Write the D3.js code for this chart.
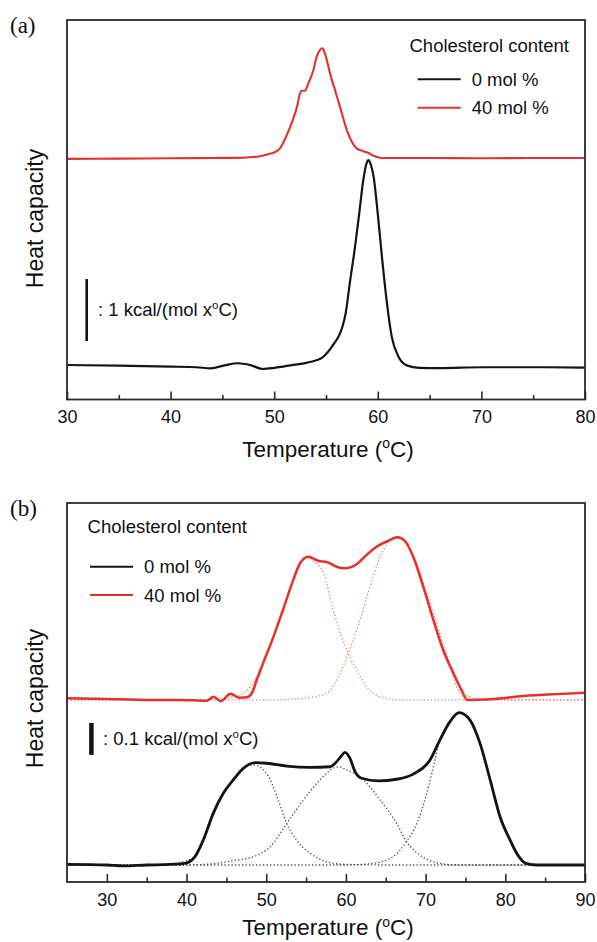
<!DOCTYPE html>
<html><head><meta charset="utf-8">
<script src="https://cdn.jsdelivr.net/npm/d3@7"></script>
<style>body{margin:0;background:#fff} svg{display:block}</style>
</head><body>
<svg id="c" width="597" height="942"></svg>
<script>
// ---------- Panel (a) data : temperature (°C) vs heat capacity (kcal/(mol·°C), offset) ----------
const aBlackT  = [30,35,40,42.5,43.9,45.2,46.5,47.7,48.9,50.0,51.0,52.2,53.2,54.0,54.6,55.2,55.8,56.2,56.6,56.9,57.3,57.8,58.2,58.6,58.9,59.1,59.3,59.6,60.0,60.4,60.85,61.35,62.0,62.8,64.0,66,70,75,80];
const aBlackCp = [0.016,0.005,-0.01,-0.02,-0.037,0.01,0.044,0.015,-0.048,-0.03,-0.005,0.025,0.055,0.09,0.13,0.23,0.37,0.47,0.64,0.85,1.34,1.92,2.45,3.0,3.26,3.32,3.26,3.05,2.45,1.76,1.06,0.47,0.15,0.01,-0.03,-0.035,-0.02,-0.02,-0.025];
const aRedT  = [30,35,40,44,47,48.5,49.5,50.2,50.6,51.2,51.8,52.2,52.5,52.65,52.97,53.3,53.78,54.1,54.42,54.64,54.9,55.39,55.87,56.35,57.0,57.48,57.96,58.5,59.05,59.5,59.9,60.5,62,65,70,75,80];
const aRedCp = [3.34,3.345,3.35,3.355,3.36,3.38,3.42,3.46,3.52,3.72,3.97,4.18,4.40,4.44,4.44,4.56,4.77,4.99,5.10,5.124,5.04,4.72,4.45,4.18,3.81,3.62,3.51,3.47,3.44,3.40,3.37,3.355,3.355,3.355,3.35,3.355,3.355];
const aTicksMajor = [30,40,50,60,70,80];
const aTicksMinor = [35,45,55,65,75];

// ---------- Panel (b) data ----------
const bBlackT  = [25,30,32,35,37.9,39.8,41.06,42.1,43.36,44.61,45.87,47.12,48.6,50.06,52.57,55.5,58.0,58.84,59.4,59.88,60.51,61.14,61.98,64.06,66.37,68.45,70.55,71.8,73.06,74.2,75.57,76.83,78.1,79.34,80.6,81.6,82.5,84,87,90];
const bBlackCp = [0.002,0.0,-0.003,0.0,0.002,0.005,0.026,0.078,0.162,0.224,0.266,0.302,0.320,0.318,0.309,0.305,0.307,0.323,0.34,0.352,0.333,0.292,0.271,0.263,0.268,0.284,0.328,0.391,0.448,0.476,0.453,0.380,0.266,0.151,0.078,0.03,0.006,0.0,0.0,0.0];
const bBlackFit1T  = [25,36,38,39.5,41,42.1,43.36,44.61,45.87,47.12,48.4,49.2,50.5,51.5,52.57,53.8,55.5,57.6,60,65,90];
const bBlackFit1Cp = [0,0,0.003,0.01,0.026,0.075,0.155,0.222,0.266,0.300,0.3125,0.307,0.266,0.203,0.130,0.078,0.037,0.010,0.002,0,0];
const bBlackFit2T  = [25,40,44,46,48.4,50.5,52.57,54.66,56.75,58.4,59.05,60.1,62.2,64.3,66.37,67.6,69.3,71.8,74,90];
const bBlackFit2Cp = [0,0,0.006,0.014,0.026,0.057,0.130,0.203,0.266,0.302,0.307,0.297,0.266,0.203,0.130,0.073,0.031,0.005,0,0];
const bBlackFit3T  = [25,60,63.4,65.9,67.6,68.9,70.14,70.97,71.8,73.06,74.2,75.57,76.83,78.1,79.34,80.6,81.6,82.5,84,90];
const bBlackFit3Cp = [0,0,0.005,0.026,0.073,0.130,0.224,0.307,0.391,0.448,0.476,0.453,0.380,0.266,0.151,0.078,0.03,0.008,0,0];

const bRedT  = [25,30,35,39.2,42.5,43.4,44.3,45.5,46.6,47.6,48.2,48.8,49.6,50.9,52.1,53.4,54.24,55.28,56.5,57.8,58.84,59.76,61.35,62.6,63.86,65.3,66.45,67.4,68.45,69.7,70.97,72.2,73.5,74.5,75.2,78.1,82.3,86.45,90];
const bRedCp = [0.521,0.519,0.516,0.516,0.513,0.526,0.512,0.535,0.523,0.524,0.537,0.578,0.630,0.713,0.797,0.891,0.943,0.963,0.951,0.945,0.932,0.927,0.940,0.969,0.995,1.013,1.024,1.013,0.963,0.870,0.766,0.672,0.599,0.547,0.516,0.518,0.528,0.534,0.538];
const bRedFit1T  = [25,42,44,46,47.5,48.5,49.6,50.9,52.1,53.4,54.24,55.2,56.2,57.2,58.4,59.47,60.3,61.35,62.6,64.3,66.8,70,90];
const bRedFit1Cp = [0.516,0.516,0.518,0.526,0.545,0.575,0.630,0.713,0.797,0.891,0.940,0.960,0.945,0.912,0.797,0.713,0.661,0.609,0.557,0.526,0.516,0.516,0.516];
const bRedFit2T  = [25,50,53,55.1,57.6,59.26,60.3,61.35,62.4,63.4,64.7,65.95,66.7,67.5,68.4,69.3,71.0,72.6,74.3,75.6,77.2,80,90];
const bRedFit2Cp = [0.516,0.516,0.518,0.522,0.537,0.599,0.661,0.734,0.818,0.901,0.984,1.021,1.024,1.01,0.97,0.912,0.786,0.661,0.54,0.526,0.516,0.516,0.516];
const bTicksMajor = [30,40,50,60,70,80,90];
const bTicksMinor = [35,45,55,65,75,85];

const legendTitle = "Cholesterol content";
const legendLabels = ["0 mol %", "40 mol %"];
const COLORS = ["#141414", "#e8302a"];

// ---------- drawing ----------
const FONT = '"Liberation Sans", Arial, Helvetica, sans-serif';
const svg = d3.select('#c');
const L = 67, R = 585;

function zip(T, C){ return T.map((t,i)=>({t, c:C[i]})); }

function supText(g, x, y, fs, parts, anchor, rotate){
  const t = g.append('text').attr('font-family', FONT).attr('font-size', fs).attr('fill', '#111')
    .attr('text-anchor', anchor || 'start');
  if (rotate) t.attr('transform', `translate(${x},${y}) rotate(-90)`);
  else t.attr('x', x).attr('y', y);
  const rise = 0.36 * fs;
  parts.forEach(p => {
    if (p.sup) {
      t.append('tspan').attr('font-size', fs * 0.62).attr('dy', -rise).text(p.s);
    } else {
      const ts = t.append('tspan').text(p.s);
      if (p.after) ts.attr('dy', rise);
    }
  });
  return t;
}

function drawPanel(o){
  const x = d3.scaleLinear().domain(o.xDomain).range([L, R]);
  const y = d3.scaleLinear().domain(o.yDomain).range([o.bottom, o.top]);
  const g = svg.append('g');
  const line = d3.line().x(d=>x(d.t)).y(d=>y(d.c)).curve(d3.curveMonotoneX);

  (o.dotted || []).forEach(d => {
    g.append('path').attr('d', line(zip(d.T, d.C))).attr('fill','none')
      .attr('stroke', d.color).attr('stroke-width', 1.3).attr('stroke-dasharray', '1.3,2.2');
  });
  o.series.forEach(d => {
    g.append('path').attr('d', line(zip(d.T, d.C))).attr('fill','none')
      .attr('stroke', d.color).attr('stroke-width', d.w).attr('stroke-linejoin','round');
  });

  g.append('rect').attr('x', L).attr('y', o.top).attr('width', R-L).attr('height', o.bottom-o.top)
    .attr('fill','none').attr('stroke','#2a2a2a').attr('stroke-width', 1.8);

  const axMaj = d3.axisBottom(x).tickValues(o.major).tickSizeInner(-8).tickSizeOuter(0)
    .tickPadding(11).tickFormat(d3.format('d'));
  const gm = g.append('g').attr('transform', `translate(0,${o.bottom})`).call(axMaj);
  gm.select('.domain').remove();
  gm.selectAll('line').attr('stroke','#2a2a2a').attr('stroke-width',1.6);
  gm.selectAll('text').attr('font-size', 18).attr('font-family', FONT).attr('fill','#111');

  const axMin = d3.axisBottom(x).tickValues(o.minor).tickSizeInner(-4.5).tickSizeOuter(0).tickFormat('');
  const gn = g.append('g').attr('transform', `translate(0,${o.bottom})`).call(axMin);
  gn.select('.domain').remove();
  gn.selectAll('line').attr('stroke','#2a2a2a').attr('stroke-width',1.6);

  // axis titles
  supText(g, 328, o.bottom + o.titleGap, 22.5, [{s:'Temperature ('},{s:'o',sup:true},{s:'C)',after:true}], 'middle');
  supText(g, 43, o.yTitleCenter, 23, [{s:'Heat capacity'}], 'middle', true);

  // panel letter
  g.append('text').attr('x', 10).attr('y', o.top + 13).attr('font-family','"Liberation Serif", "Times New Roman", serif')
    .attr('font-size', 23).attr('fill','#111').text(o.letter);

  // scale bar
  g.append('line').attr('x1', x(o.bar.t)).attr('x2', x(o.bar.t))
    .attr('y1', y(o.bar.c0)).attr('y2', y(o.bar.c0 + o.bar.len))
    .attr('stroke','#141414').attr('stroke-width', o.bar.w);
  supText(g, o.bar.tx, o.bar.ty, 18.5, [{s:o.bar.label},{s:'o',sup:true},{s:'C)',after:true}]);

  // legend
  const lg = o.legend;
  g.append('text').attr('x', lg.x).attr('y', lg.y).attr('font-family', FONT).attr('font-size', 18.5)
    .attr('fill','#111').text(legendTitle);
  legendLabels.forEach((lab, i) => {
    const yy = lg.ly[i];
    g.append('line').attr('x1', lg.lx).attr('x2', lg.lx + 43).attr('y1', yy).attr('y2', yy)
      .attr('stroke', COLORS[i]).attr('stroke-width', 2);
    g.append('text').attr('x', lg.lx + 54).attr('y', yy + 6.6).attr('font-family', FONT)
      .attr('font-size', 18.5).attr('fill','#111').text(lab);
  });
}

drawPanel({
  letter: '(a)', top: 20, bottom: 399.5, xDomain: [30, 80], yDomain: [-0.5403, 5.5806],
  major: aTicksMajor, minor: aTicksMinor, yTitleCenter: 218.5, titleGap: 57,
  series: [
    {T: aRedT, C: aRedCp, color: COLORS[1], w: 2.1},
    {T: aBlackT, C: aBlackCp, color: COLORS[0], w: 2.2}
  ],
  bar: {t: 31.9, c0: 0.403, len: 1, w: 2.6, label: ': 1 kcal/(mol x', tx: 98, ty: 316},
  legend: {x: 409.5, y: 52.3, lx: 417.7, ly: [79.3, 107.7]}
});

drawPanel({
  letter: '(b)', top: 503, bottom: 882, xDomain: [25, 90], yDomain: [-0.0531, 1.13125],
  major: bTicksMajor, minor: bTicksMinor, yTitleCenter: 698.5, titleGap: 53,
  dotted: [
    {T: bBlackFit1T, C: bBlackFit1Cp, color: '#4a4a4a'},
    {T: bBlackFit2T, C: bBlackFit2Cp, color: '#4a4a4a'},
    {T: bBlackFit3T, C: bBlackFit3Cp, color: '#4a4a4a'},
    {T: bRedFit1T, C: bRedFit1Cp, color: '#f07a72'},
    {T: bRedFit2T, C: bRedFit2Cp, color: '#f07a72'}
  ],
  series: [
    {T: bRedT, C: bRedCp, color: COLORS[1], w: 2.5},
    {T: bBlackT, C: bBlackCp, color: COLORS[0], w: 2.8}
  ],
  bar: {t: 28.06, c0: 0.344, len: 0.1, w: 4.5, label: ': 0.1 kcal/(mol x', tx: 103, ty: 744.5},
  legend: {x: 87.6, y: 533.3, lx: 90, ly: [566.7, 595]}
});
</script>
</body></html>
